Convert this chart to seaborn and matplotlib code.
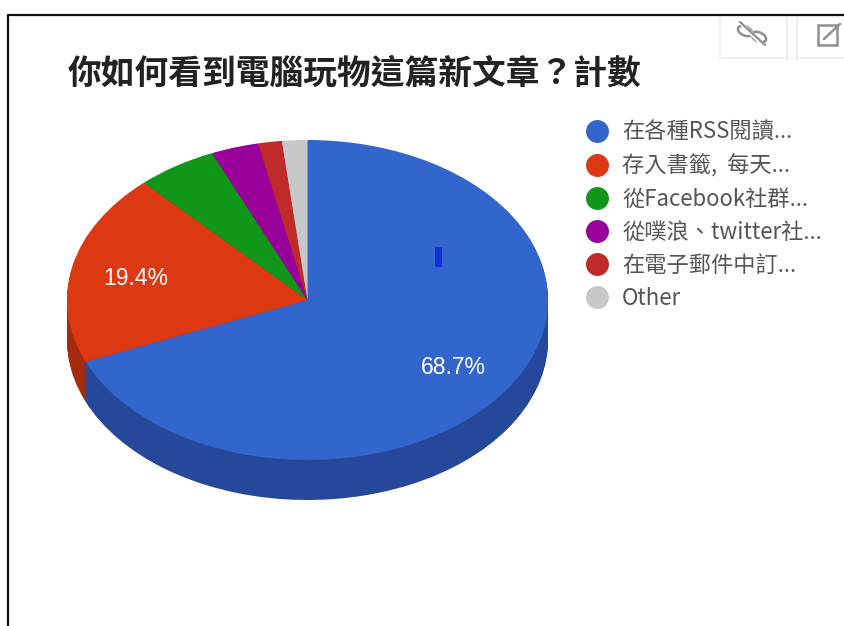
import matplotlib
matplotlib.use("Agg")
import matplotlib.pyplot as plt
from matplotlib.lines import Line2D
from matplotlib.patches import Rectangle, Ellipse
import seaborn as sns

# Survey result: how readers came across the new article
title = "你如何看到電腦玩物這篇新文章\uff1f計數"
categories = ["在各種RSS閱讀...", "存入書籤,  每天...", "從Facebook社群...",
              "從噗浪、twitter社...", "在電子郵件中訂...", "Other"]
shares = [68.7, 19.4, 5.4, 3.2, 1.6, 1.7]
top_colors = ["#3366cc", "#dc3912", "#109618", "#990099", "#c02a2a", "#c6c9c9"]
side_colors = ["#26489a", "#a52b0e", "#0c7012", "#730073", "#902020", "#959797"]

W, H = 845, 626
sns.set_theme(style="white")
plt.rcParams["font.family"] = ["Noto Sans CJK TC", "Liberation Sans", "DejaVu Sans"]

fig = plt.figure(figsize=(W / 100, H / 100), dpi=100, facecolor="white")

# Full-figure overlay in pixel units for the frame, title and toolbar icons
page = fig.add_axes([0, 0, 1, 1], zorder=0)
page.set_xlim(0, W)
page.set_ylim(H, 0)
page.axis("off")
page.add_line(Line2D([8.5, 8.5, W], [H, 14.5, 14.5], color="#111111", lw=1.6))
page.text(68, 73, title, fontsize=24.3, fontweight="bold", color="#222222",
          va="center", ha="left")

# Toolbar buttons
for x0, x1 in [(720, 787), (797, 846)]:
    page.add_patch(Rectangle((x0, 15), x1 - x0, 43, fc="white", ec="#efefef", lw=1.5))
icon = "#8f8f8f"
page.add_patch(Ellipse((745, 31), 15, 9, angle=25, fc="none", ec=icon, lw=1.8))
page.add_patch(Ellipse((759, 37), 15, 9, angle=25, fc="none", ec=icon, lw=1.8))
page.add_line(Line2D([741, 764], [23, 46], color="white", lw=3))
page.add_line(Line2D([740, 765], [22, 45], color=icon, lw=1.6))
page.add_patch(Rectangle((818, 25), 19, 20, fc="none", ec=icon, lw=1.8))
page.add_line(Line2D([824, 840], [39, 24], color=icon, lw=1.8))

# Pie axes: the unit circle is stretched to an ellipse to give the tilted look
cx, cy, rx, ry, depth = 307.5, 300, 240.5, 160, 40
pie_ax = fig.add_axes([(cx - rx) / W, 1 - (cy + ry) / H, 2 * rx / W, 2 * ry / H], zorder=1)
pie_style = dict(startangle=90, counterclock=False, radius=1)

# Extruded side: stacked copies of the pie from the bottom upwards
for step in range(depth, 0, -1):
    wedges, _ = pie_ax.pie(shares, colors=side_colors, center=(0, -step / ry), **pie_style)
    for w in wedges:
        w.set_clip_on(False)
        w.set_linewidth(0)

wedges, _, pct_labels = pie_ax.pie(
    shares, colors=top_colors, pctdistance=0.73,
    autopct=lambda p: f"{p:.1f}%" if p >= 10 else "",
    textprops=dict(color="white", fontsize=16.5, family="Liberation Sans"), **pie_style)
for w in wedges:
    w.set_clip_on(False)
    w.set_linewidth(0)
for label in pct_labels:
    label.set_y(label.get_position()[1] - 3 / ry)
pie_ax.set_aspect("auto")
pie_ax.set_xlim(-1, 1)
pie_ax.set_ylim(-1, 1)
pie_ax.axis("off")

# Small blue tick inside the large slice
pie_ax.add_patch(Rectangle(((435 - cx) / rx, (cy - 267) / ry), 7 / rx, 20 / ry,
                           fc="#0f2fd8", ec="none"))

# Legend
handles = [Line2D([], [], ls="", marker="o", ms=15.5, mfc=c, mec=c) for c in top_colors]
fig.legend(handles, categories, loc="upper left",
           bbox_to_anchor=(581 / W, 1 - 121 / H), frameon=False, fontsize=16,
           labelcolor="#555555", labelspacing=0.455, handletextpad=0.45,
           borderpad=0, borderaxespad=0, handlelength=1.4)

fig.savefig("out.png", dpi=100, facecolor="white")
